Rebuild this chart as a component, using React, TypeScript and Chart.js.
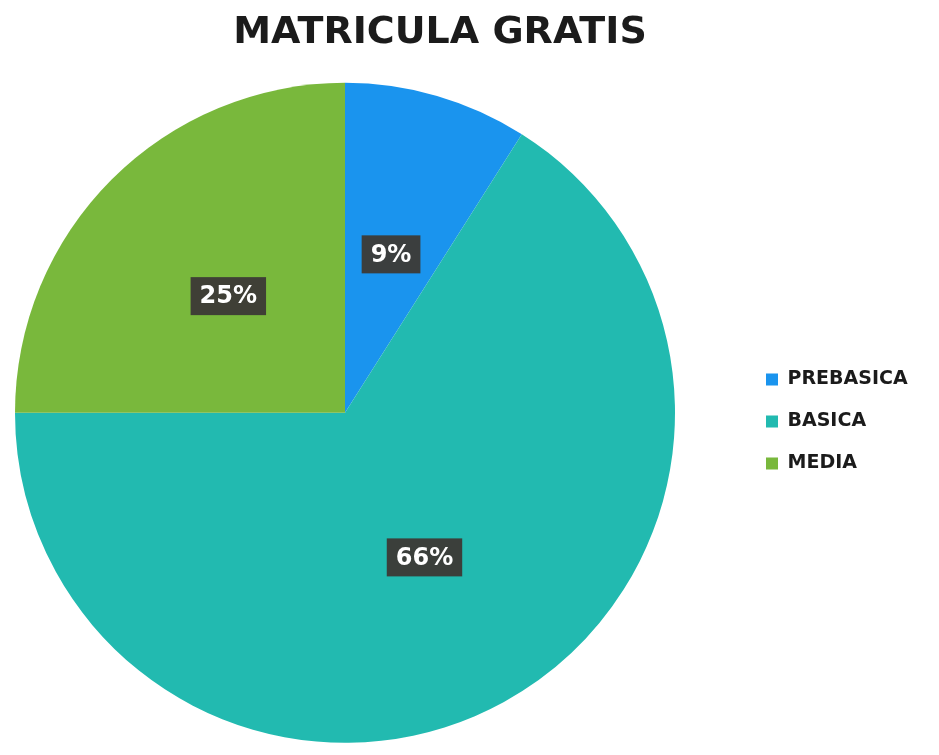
import React, { useEffect, useRef } from "react";
import { Chart, registerables } from "chart.js";

Chart.register(...registerables);

const TITLE = "MATRICULA GRATIS";
const CATEGORIES = ["PREBASICA", "BASICA", "MEDIA"];
const VALUES = [9, 66, 25];
const COLORS = ["#1A94EE", "#22BAB0", "#79B83C"];

const FONT = "'DejaVu Sans', 'Liberation Sans', sans-serif";

export default function App() {
  const ref = useRef<HTMLCanvasElement | null>(null);

  useEffect(() => {
    if (!ref.current) return;

    const labelPlugin = {
      id: "pctLabels",
      afterDatasetsDraw(chart: any) {
        const ctx = chart.ctx;
        const meta = chart.getDatasetMeta(0);
        ctx.save();
        ctx.font = `bold 24px ${FONT}`;
        ctx.textAlign = "center";
        ctx.textBaseline = "middle";
        meta.data.forEach((arc: any, i: number) => {
          const p = arc.tooltipPosition(false);
          const t = `${VALUES[i]}%`;
          const w = ctx.measureText(t).width + 18;
          const h = 38;
          ctx.fillStyle = "rgba(60,58,54,0.96)";
          ctx.fillRect(p.x - w / 2, p.y - h / 2, w, h);
          ctx.fillStyle = "#ffffff";
          ctx.fillText(t, p.x, p.y + 1);
        });
        ctx.restore();
      },
    };

    const layoutPlugin = {
      id: "fixLayout",
      afterLayout(chart: any) {
        const ca = chart.chartArea;
        chart.chartArea = {
          left: 15,
          right: 675,
          top: ca.top,
          bottom: ca.bottom,
          width: 660,
          height: ca.bottom - ca.top,
        };
        const lg = chart.legend;
        if (lg) {
          const pad = lg.options.labels.padding;
          const dx = 766 - pad - lg.left;
          lg.left += dx;
          lg.right += dx;
          const dy = 50;
          lg.top += dy;
          lg.bottom += dy;
        }
      },
    };

    const chart = new Chart(ref.current, {
      type: "pie",
      data: {
        labels: CATEGORIES,
        datasets: [
          {
            data: VALUES,
            backgroundColor: COLORS,
            borderWidth: 0,
          },
        ],
      },
      options: {
        responsive: false,
        animation: false,
        layout: { padding: { left: 15, right: 74, top: 0, bottom: 12 } },
        plugins: {
          title: {
            display: true,
            text: TITLE,
            color: "#1b1b1b",
            font: { family: FONT, size: 38, weight: "bold" },
            padding: { top: 10, bottom: 27 },
          },
          legend: {
            position: "right",
            labels: {
              boxWidth: 12,
              boxHeight: 12,
              padding: 23,
              color: "#1b1b1b",
              font: { family: FONT, size: 19, weight: "bold" },
            },
          },
          tooltip: { enabled: false },
        },
      },
      plugins: [layoutPlugin, labelPlugin],
    });

    return () => chart.destroy();
  }, []);

  return (
    <div
      style={{
        position: "fixed",
        left: 0,
        top: 0,
        width: 939,
        height: 755,
        background: "#ffffff",
      }}
    >
      <canvas ref={ref} width={939} height={755} style={{ width: 939, height: 755 }} />
    </div>
  );
}
